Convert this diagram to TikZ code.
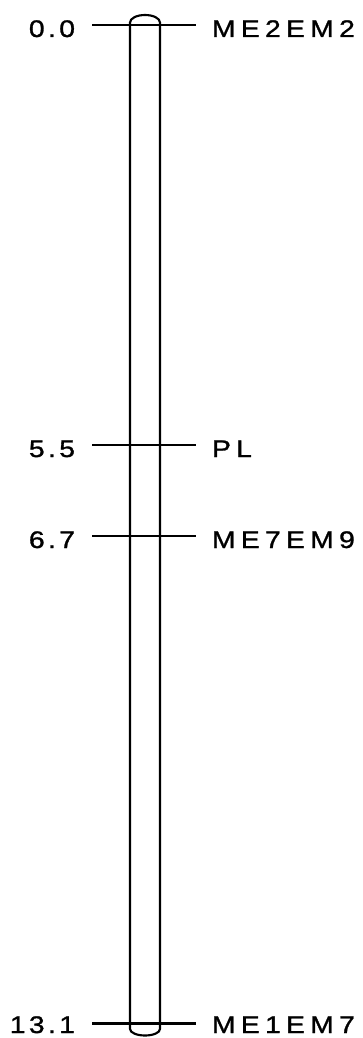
\documentclass[tikz,border=0pt]{standalone}
\usepackage{fontspec}
\setmainfont{Liberation Sans}
\newfontfamily\labfont[FakeStretch=1.18,LetterSpace=22,FakeBold=1.2]{Liberation Sans}
\newfontfamily\numfont[FakeStretch=1.18,LetterSpace=14,FakeBold=1.2]{Liberation Sans}
\begin{document}
\begin{tikzpicture}[x=0.75pt,y=-0.75pt,line width=1.5pt]
\tikzset{
  markerlabel/.style={inner sep=0pt,anchor=base west,font=\labfont\fontsize{18}{20}\selectfont},
  poslabel/.style={inner sep=0pt,anchor=base east,font=\numfont\fontsize{18}{20}\selectfont},
  tickline/.style={line width=1.6pt},
  chrom/.style={line width=1.6pt}
}
\useasboundingbox (0,0) rectangle (362,1038);
% chromosome
\draw[chrom] (130,1029) -- (130,22.5) arc[start angle=180,end angle=360,x radius=15,y radius=7.5]
  -- (160,1029) arc[start angle=0,end angle=180,x radius=15,y radius=6.5] ;
% ticks
\foreach \n/\y/\v/\m/\d in {a/25/0.0/ME2EM2/12, b/445/5.5/PL/12, c/536/6.7/ME7EM9/12, d/1023.5/13.1/ME1EM7/9.5}{
  \coordinate (tl\n) at (92,\y);
  \coordinate (tr\n) at (196,\y);
  \draw[tickline] (tl\n) -- (tr\n);
  \node[poslabel] (v\n) at (76,\y+\d) {\v};
  \node[markerlabel] (m\n) at (211,\y+\d) {\m};
}
\end{tikzpicture}
\end{document}
